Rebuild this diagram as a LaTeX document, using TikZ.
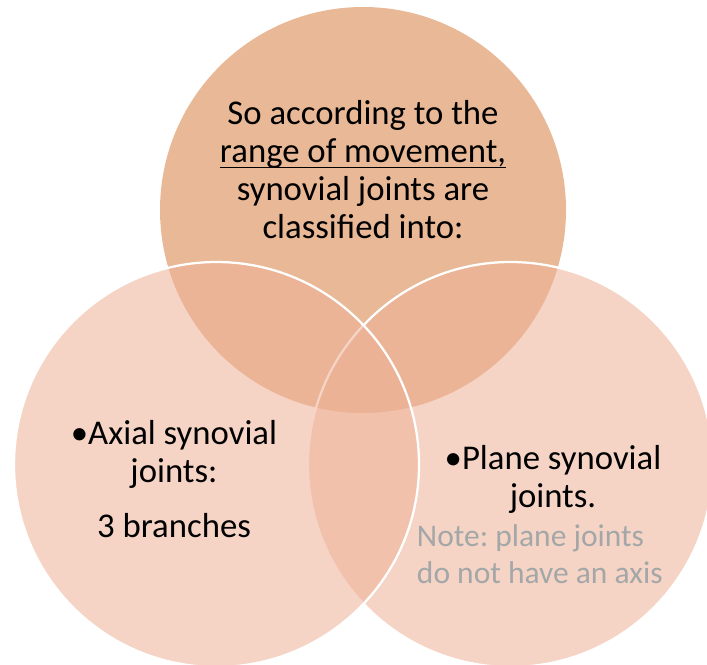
\documentclass[tikz,border=0pt]{standalone}
\usepackage{fontspec}
\setmainfont{Carlito}
\usetikzlibrary{positioning}
\frenchspacing

\definecolor{topfill}{HTML}{E9B896}
\definecolor{sidefill}{HTML}{EDB197}
\definecolor{notegray}{HTML}{A3A7A7}

\begin{document}
\begin{tikzpicture}[x=0.025cm, y=-0.025cm,
    bigtext/.style={align=center, text=black,
                    font=\fontsize{24.7}{27}\selectfont},
    notetext/.style={align=left, text=notegray,
                     font=\fontsize{22.4}{26.5}\selectfont},
    side/.style={fill=sidefill, fill opacity=0.55, draw=white,
                 draw opacity=1, line width=1.6pt}]

\useasboundingbox (0,0) rectangle (707,664);
\clip (0,0) rectangle (707,664);

% three circles
\fill[topfill] (363,210) circle (203);
\path[side] (510.5,464.5) circle (202.5);
\path[side] (216.5,464.5) circle (202.5);

% texts
\node[bigtext] (range) at (363,170)
    {So according to the\\
     \underline{\raisebox{0pt}[\height][1.5pt]{range of movement,}}\\
     synovial joints are\\ classified into:};

\node[bigtext] (axial) at (174,479)
    {\textbullet Axial synovial\\ joints:\\[0.42cm] 3 branches};

\node[bigtext] (plane) at (553,479)
    {\textbullet Plane synovial\\ joints.};
\node[notetext, anchor=west] (note) at (412,554)
    {Note: plane joints\\ do not have an axis};

\end{tikzpicture}
\end{document}
